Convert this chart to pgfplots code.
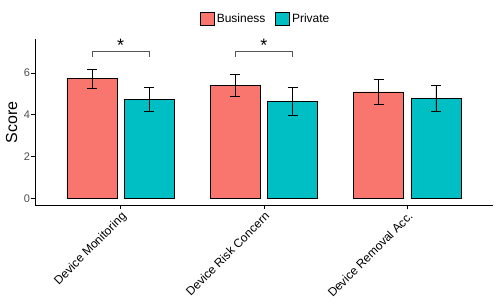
\documentclass[border=0pt]{standalone}
\usepackage{pgfplots}
\pgfplotsset{compat=1.18}
\usepackage{fontspec}
\setmainfont{Liberation Sans}
\definecolor{bus}{HTML}{F8766D}
\definecolor{pri}{HTML}{00BFC4}
\definecolor{gtxt}{HTML}{4D4D4D}
\definecolor{brk}{HTML}{555555}
\begin{document}
\begin{tikzpicture}
\path[use as bounding box] (0,0) rectangle (498bp,308bp);
\begin{axis}[
  at={(35bp,102.3bp)}, anchor=south west,
  scale only axis, width=457.7bp, height=166.7bp,
  xmin=-0.598, xmax=2.596, ymin=-0.354, ymax=7.62,
  axis x line*=bottom, axis y line*=left,
  axis line style={-, line width=0.8bp, black},
  tick align=outside, major tick length=3.7bp,
  tick style={line width=0.6bp, black},
  xtick={0,1,2},
  xticklabels={Device Monitoring, Device Risk Concern, Device Removal Acc.},
  xticklabel style={rotate=45, anchor=north east, font=\fontsize{12bp}{14bp}\selectfont, text=black, inner sep=1bp},
  ytick={0,2,4,6},
  yticklabel style={font=\fontsize{11bp}{13bp}\selectfont, text=gtxt, inner sep=1bp},
  /pgf/number format/assume math mode=true,
  ylabel={Score},
  every axis y label/.style={at={(axis description cs:-0.0509,0.5)}, rotate=90, anchor=center, font=\fontsize{16bp}{18bp}\selectfont},
  clip=false,
  legend columns=2,
  legend style={draw=none, fill=none, at={(0.3605,1.1218)}, anchor=west, inner sep=0pt,
    font=\fontsize{12bp}{14bp}\selectfont,
    /tikz/every even column/.append style={column sep=8bp}},
  legend image code/.code={\path[#1, draw=black, line width=0.6bp] (0bp,-6.5bp) rectangle (14bp,6.5bp);},
  error bars/error bar style={line width=0.7bp, black},
  error bars/error mark options={line width=0.7bp, black, mark size=5bp, rotate=90},
]
\addplot[ybar, bar width=0.35, bar shift=0, fill=bus, draw=black, line width=0.6bp,
  error bars/.cd, y dir=both, y explicit]
  coordinates {(-0.2,5.72) +- (0,0.47) (0.8,5.41) +- (0,0.51) (1.8,5.09) +- (0,0.58)};
\addlegendentry{Business}
\addplot[ybar, bar width=0.35, bar shift=0, fill=pri, draw=black, line width=0.6bp,
  error bars/.cd, y dir=both, y explicit]
  coordinates {(0.2,4.74) +- (0,0.58) (1.2,4.64) +- (0,0.65) (2.2,4.78) +- (0,0.62)};
\addlegendentry{Private}
\draw[brk, line width=0.8bp] (axis cs:-0.2,6.77) -- (axis cs:-0.2,7.01) -- (axis cs:0.2,7.01) -- (axis cs:0.2,6.77);
\draw[brk, line width=0.8bp] (axis cs:0.8,6.77) -- (axis cs:0.8,7.01) -- (axis cs:1.2,7.01) -- (axis cs:1.2,6.77);
\node[anchor=base, font=\fontsize{18bp}{20bp}\selectfont, inner sep=0pt] at (axis cs:0,7.0) {*};
\node[anchor=base, font=\fontsize{18bp}{20bp}\selectfont, inner sep=0pt] at (axis cs:1,7.0) {*};
\end{axis}
\end{tikzpicture}
\end{document}
